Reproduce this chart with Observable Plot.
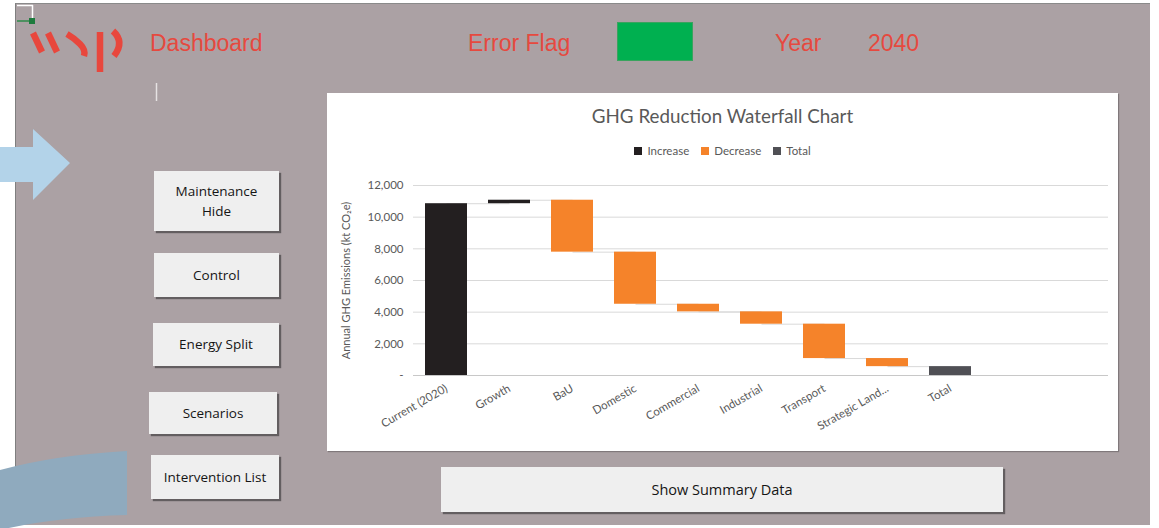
<!DOCTYPE html>
<html>
<head>
<meta charset="utf-8">
<script src="https://cdn.jsdelivr.net/npm/d3@7"></script>
<script src="https://cdn.jsdelivr.net/npm/@observablehq/plot@0.6"></script>
<style>
  html, body { margin: 0; padding: 0; background: #ffffff; }
  #page { position: relative; width: 1159px; height: 528px; overflow: hidden; background: #ffffff; }
  .abs { position: absolute; }
  #sheet { left: 15px; top: 3px; width: 1134px; height: 521px; background: #aba1a4;
           border-left: 1px solid #7f7f7f; border-top: 1px solid #8a8a8a; }
  .hdr { font-family: "Liberation Sans", Arial, sans-serif; font-size: 23px; color: #e6493f; line-height: 1; white-space: nowrap; }
  .btn { background: #efefef; box-shadow: 2px 2px 1px rgba(40,40,40,0.55); display: flex; align-items: center; justify-content: center;
         text-align: center; font-family: "Open Sans", sans-serif; font-size: 13.5px; color: #151515; line-height: 1.5; }
  #panel { left: 327px; top: 93px; width: 791px; height: 358px; background: #ffffff; box-shadow: 1px 1px 1px rgba(0,0,0,0.25); }
  #title { left: 327px; top: 104px; width: 791px; text-align: center; font-family: Lato, sans-serif; font-size: 18.8px; color: #595959; }
  #legend { left: 327px; top: 144px; width: 791px; display: flex; justify-content: center; gap: 12px; font-family: Lato, sans-serif; font-size: 11.5px; color: #595959; }
  #legend span.sw { display: inline-block; width: 8px; height: 8px; margin-right: 5px; vertical-align: -0px; }
  #chart { left: 327px; top: 170px; }
</style>
</head>
<body>
<div id="page">
  <div id="sheet" class="abs"></div>

  <!-- decorative shapes -->
  <svg class="abs" style="left:0;top:0" width="1159" height="528">
    <polygon points="0,147 33,147 33,129 70,163 33,200 33,182 0,182" fill="#b3d3e9"/>
    <path d="M0,470 Q55,455 127,451 L127,515 Q55,517 0,530 Z" fill="#8faabe"/>
    <!-- selection corner -->
    <line x1="17" y1="5.5" x2="33" y2="5.5" stroke="#ffffff" stroke-width="1.5"/>
    <line x1="32.5" y1="5" x2="32.5" y2="19" stroke="#ffffff" stroke-width="1.5"/>
    <line x1="17" y1="21" x2="30" y2="21" stroke="#2e8b4a" stroke-width="1.5"/>
    <rect x="29" y="18" width="6" height="6" fill="#1e7b3e"/>
    <!-- WSP logo -->
    <g stroke="#e8473d" stroke-width="6.5" stroke-linecap="butt" fill="none">
      <line x1="33" y1="33" x2="42" y2="52"/>
      <line x1="48" y1="33" x2="57" y2="52"/>
      <path d="M67,34 Q74,38 80,44 Q86,50 84,56"/>
      <line x1="100" y1="32" x2="100" y2="72"/>
      <path d="M113,31 Q125,42 114,56"/>
    </g>
    <line x1="156.5" y1="83" x2="156.5" y2="101" stroke="#e6e2e3" stroke-width="1.5"/>
  </svg>

  <div class="abs hdr" style="left:150px;top:32px">Dashboard</div>
  <div class="abs hdr" style="left:468px;top:32px">Error Flag</div>
  <div class="abs" style="left:617px;top:22px;width:76px;height:39px;background:#00b050;border:1px solid #3aa35e;box-sizing:border-box"></div>
  <div class="abs hdr" style="left:775px;top:32px">Year</div>
  <div class="abs hdr" style="left:868px;top:32px">2040</div>

  <div class="abs btn" style="left:154px;top:171px;width:125px;height:60px">Maintenance<br>Hide</div>
  <div class="abs btn" style="left:154px;top:253px;width:125px;height:44px">Control</div>
  <div class="abs btn" style="left:153px;top:323px;width:126px;height:43px">Energy Split</div>
  <div class="abs btn" style="left:149px;top:392px;width:128px;height:42px">Scenarios</div>
  <div class="abs btn" style="left:151px;top:455px;width:128px;height:44px">Intervention List</div>
  <div class="abs btn" style="left:441px;top:467px;width:562px;height:45px;font-size:14.5px">Show Summary Data</div>

  <div id="panel" class="abs"></div>
  <div id="title" class="abs">GHG Reduction Waterfall Chart</div>
  <div id="legend" class="abs">
    <div><span class="sw" style="background:#231f20"></span>Increase</div>
    <div><span class="sw" style="background:#f5832a"></span>Decrease</div>
    <div><span class="sw" style="background:#505055"></span>Total</div>
  </div>
  <div id="chart" class="abs"></div>
</div>

<script>
// ---- data (kt CO2e) ----
const categories = ["Current (2020)", "Growth", "BaU", "Domestic", "Commercial", "Industrial", "Transport", "Strategic Land...", "Total"];
const changes    = [10850, 220, -3280, -3290, -480, -780, -2170, -510, 560];
const kinds      = ["Increase", "Increase", "Decrease", "Decrease", "Decrease", "Decrease", "Decrease", "Decrease", "Total"];
const emptySlots = ["_blank1", "_blank2"];
const yTicks     = [0, 2000, 4000, 6000, 8000, 10000, 12000];
const yTitle     = "Annual GHG Emissions (kt CO\u2082e)";
const kindColors = {Increase: "#231f20", Decrease: "#f5832a", Total: "#505055"};

// ---- build waterfall table ----
const rows = [];
let level = 0;
categories.forEach((c, i) => {
  let y1, y2;
  if (kinds[i] === "Total") { y1 = 0; y2 = changes[i]; level = changes[i]; }
  else { y1 = level; y2 = level + changes[i]; level = y2; }
  rows.push({category: c, y1, y2, end: level, color: kindColors[kinds[i]]});
});
const connectors = rows.slice(0, -1).map((r, i) => ({from: r.category, to: rows[i + 1].category, level: r.end}));

const xDomain = categories.concat(emptySlots);
const xFormat = d => categories.includes(d) ? d : "";
const yFormat = d => d === 0 ? "-" : d3.format(",")(d);

const chart = Plot.plot({
  width: 791,
  height: 281,
  marginLeft: 86,
  marginRight: 10,
  marginTop: 15,
  marginBottom: 76,
  style: {fontFamily: "Lato, sans-serif", fontSize: "11.5px", color: "#595959", background: "transparent", overflow: "visible"},
  x: {type: "band", domain: xDomain, paddingInner: 0.335, paddingOuter: 0.1675, label: null},
  y: {domain: [0, 12000], label: null},
  color: {type: "identity"},
  marks: [
    Plot.ruleY(yTicks.filter(d => d > 0), {stroke: "#d9d9d9", strokeWidth: 1}),
    Plot.link(connectors, {x1: "from", x2: "to", y1: "level", y2: "level", stroke: "#d9d9d9", strokeWidth: 1}),
    Plot.barY(rows, {x: "category", y1: "y1", y2: "y2", fill: "color"}),
    Plot.ruleY([0], {stroke: "#c8c8c8", strokeWidth: 1}),
    Plot.axisY({ticks: yTicks, tickFormat: yFormat, tickSize: 0, tickPadding: 10, label: null, fill: "#595959"}),
    Plot.axisX({tickRotate: -30, tickSize: 0, tickPadding: 12, tickFormat: xFormat, label: null, fill: "#595959"}),
    Plot.text([yTitle], {frameAnchor: "left", rotate: -90, dx: -67, text: d => d, fontSize: 11, fill: "#595959", textAnchor: "middle"})
  ]
});
document.getElementById("chart").appendChild(chart);
</script>
</body>
</html>
